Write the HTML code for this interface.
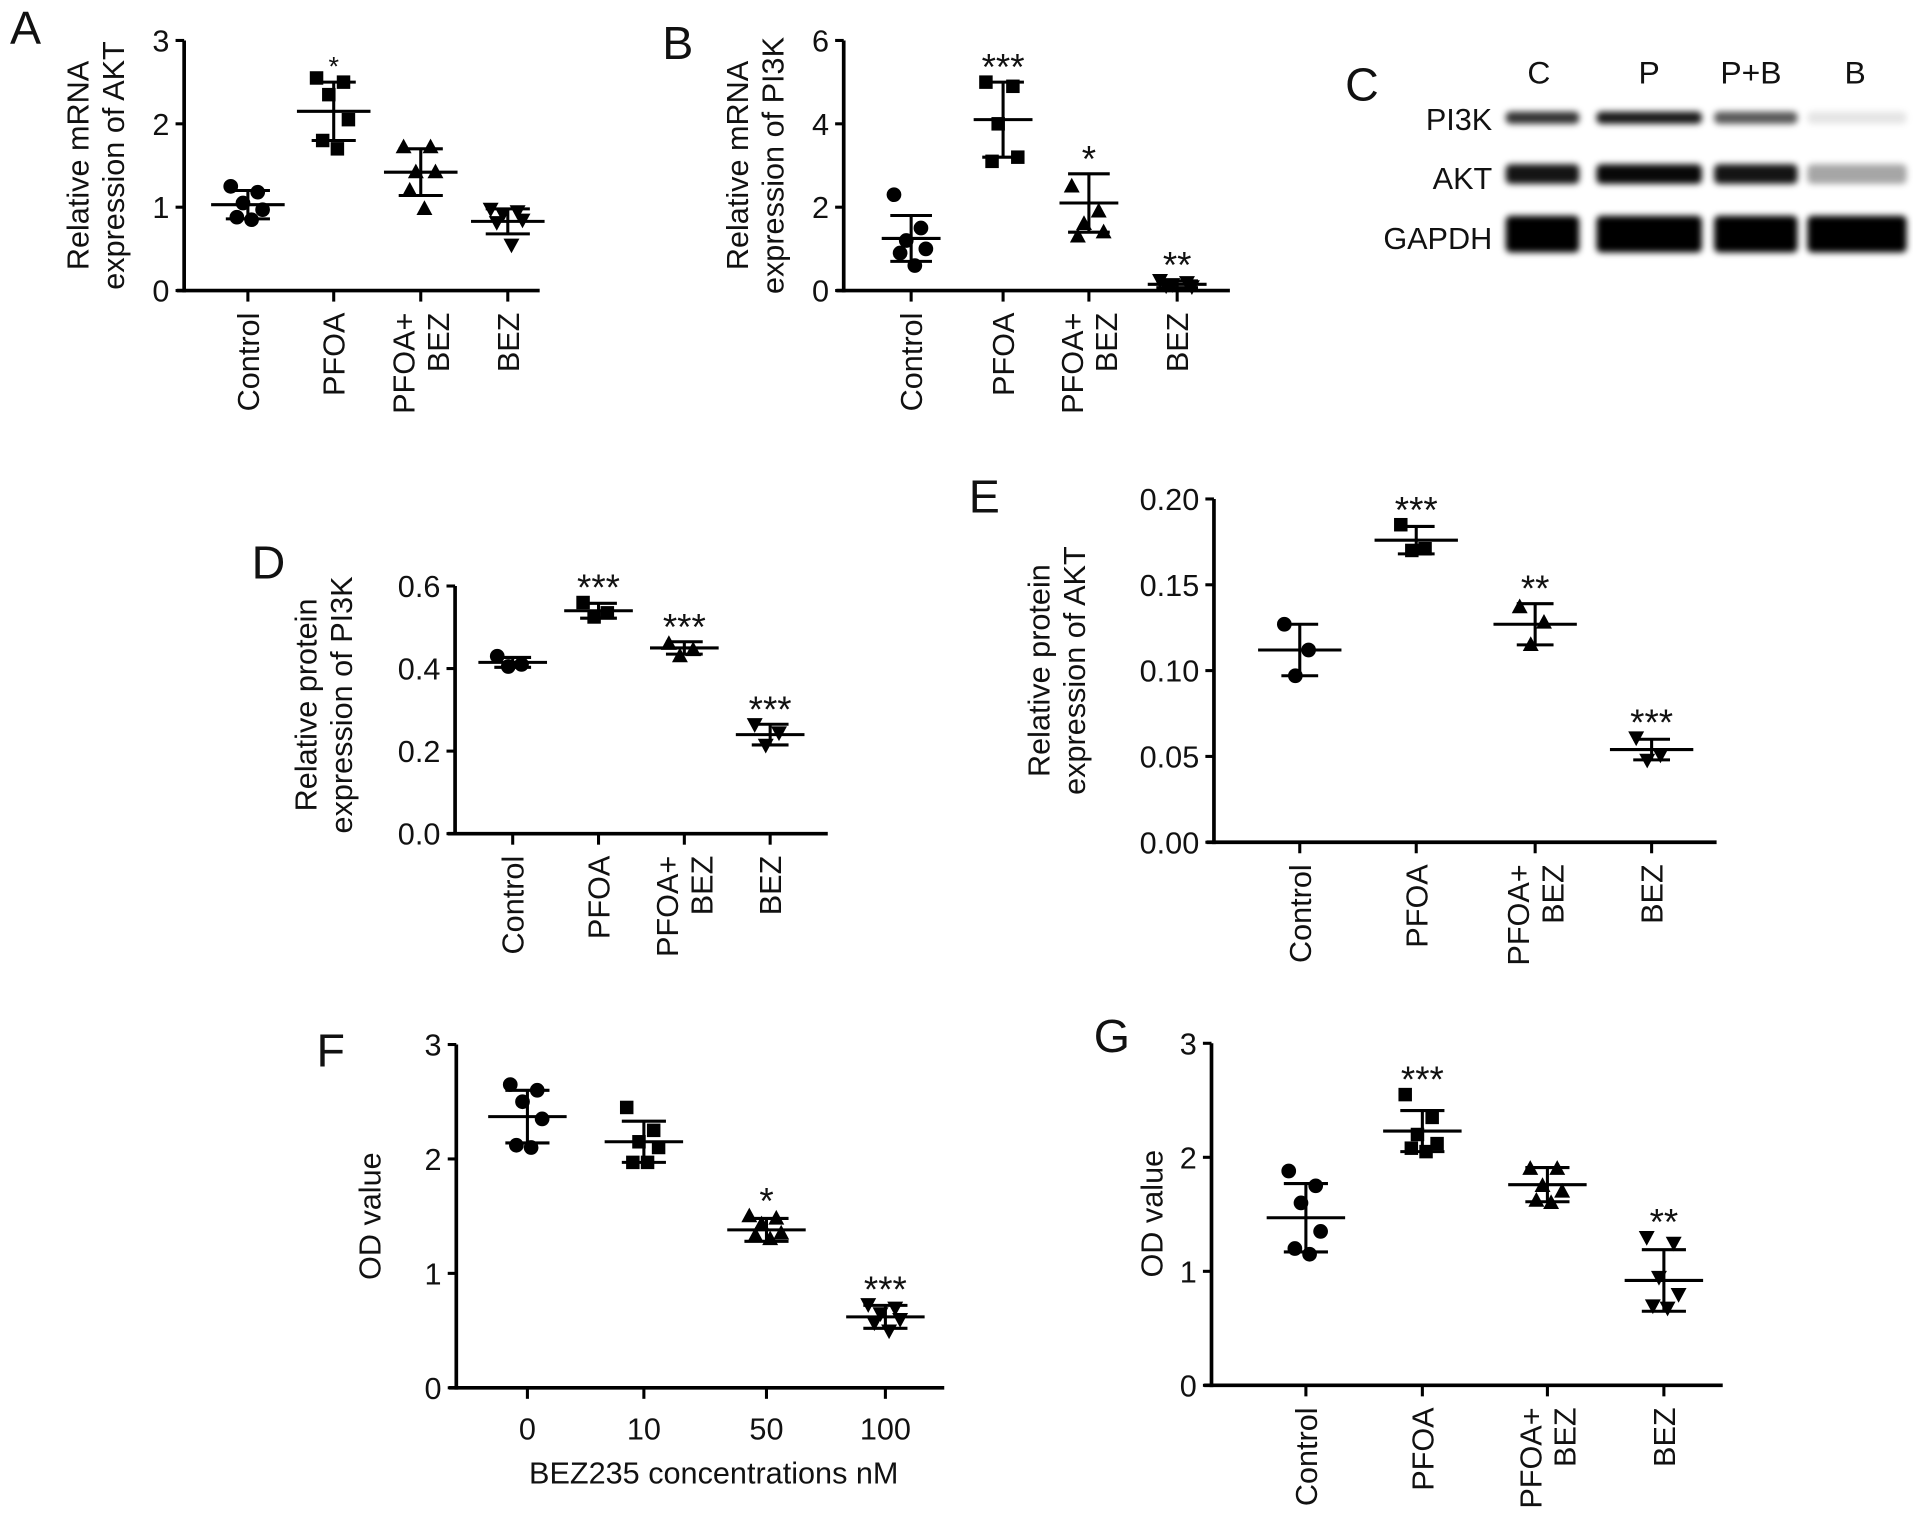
<!DOCTYPE html>
<html><head><meta charset="utf-8"><style>
html,body{margin:0;padding:0;background:#fff}
svg{display:block}
text{font-family:"Liberation Sans",Arial,sans-serif;fill:#111}
</style></head><body>
<svg id="fig" width="1913" height="1530" viewBox="0 0 1560 1248">
<defs><filter id="blur" x="-10%" y="-50%" width="120%" height="200%"><feGaussianBlur stdDeviation="2.5"/></filter></defs>
<g>
<text x="1097" y="82" font-size="38">C</text>
<text x="1255" y="68" font-size="26" text-anchor="middle">C</text>
<text x="1345" y="68" font-size="26" text-anchor="middle">P</text>
<text x="1428" y="68" font-size="26" text-anchor="middle">P+B</text>
<text x="1513" y="68" font-size="26" text-anchor="middle">B</text>
<text x="1217" y="106" font-size="25" text-anchor="end">PI3K</text>
<text x="1217" y="154" font-size="25" text-anchor="end">AKT</text>
<text x="1217" y="203" font-size="25" text-anchor="end">GAPDH</text>
<g id="bands" filter="url(#blur)"></g>
</g>
<g id="charts"></g>
</svg>
<script>
// Data arrays
const catsTreat = ["Control","PFOA","PFOA+\nBEZ","BEZ"];
const catsConc = ["0","10","50","100"];
const aPts = [[1.25,1.18,1.05,0.97,0.88,0.85],[2.55,2.5,2.35,2.05,1.8,1.7],[1.72,1.72,1.42,1.42,1.2,0.98],[0.98,0.95,0.92,0.85,0.82,0.55]];
const aMean = [1.03,2.15,1.42,0.83];
const aSd = [0.17,0.35,0.28,0.15];
const aStars = ["","*","",""];
const bPts = [[2.3,1.5,1.2,1.0,0.9,0.6],[5.0,4.9,4.0,3.2,3.1],[2.5,1.9,1.6,1.4,1.3],[0.25,0.2,0.15,0.1,0.12]];
const bMean = [1.25,4.1,2.1,0.15];
const bSd = [0.55,0.9,0.7,0.08];
const bStars = ["","***","*","**"];
const dPts = [[0.43,0.41,0.405],[0.56,0.535,0.525],[0.46,0.445,0.43],[0.265,0.245,0.215]];
const dMean = [0.415,0.54,0.45,0.24];
const dSd = [0.012,0.018,0.015,0.025];
const dStars = ["","***","***","***"];
const ePts = [[0.127,0.112,0.097],[0.185,0.171,0.170],[0.137,0.128,0.115],[0.061,0.051,0.048]];
const eMean = [0.112,0.176,0.127,0.054];
const eSd = [0.015,0.008,0.012,0.006];
const eStars = ["","***","**","***"];
const fPts = [[2.65,2.6,2.5,2.35,2.12,2.1],[2.45,2.25,2.15,2.1,1.97,1.97],[1.5,1.48,1.43,1.35,1.33,1.3],[0.73,0.7,0.65,0.6,0.57,0.5]];
const fMean = [2.37,2.15,1.38,0.62];
const fSd = [0.23,0.18,0.1,0.1];
const fStars = ["","","*","***"];
const gPts = [[1.88,1.75,1.6,1.35,1.2,1.15],[2.55,2.35,2.2,2.12,2.08,2.05],[1.9,1.9,1.75,1.7,1.62,1.6],[1.3,1.25,0.95,0.8,0.7,0.68]];
const gMean = [1.47,2.23,1.76,0.92];
const gSd = [0.3,0.18,0.15,0.27];
const gStars = ["","***","","**"];
const bandIntensity = [[0.8,0.9,0.65,0.1],[0.92,0.97,0.92,0.35],[1,1,1,1]];

const NS="http://www.w3.org/2000/svg";
function mk(tag,attrs,parent){const e=document.createElementNS(NS,tag);for(const k in attrs)e.setAttribute(k,attrs[k]);parent.appendChild(e);return e;}

const bandsG=document.getElementById('bands');
const laneX=[[1228,1288],[1302,1388],[1398,1466],[1474,1555]];
const rowY=[96,142,191];const rowH=[10,16,30];
bandIntensity.forEach((row,ri)=>row.forEach((v,li)=>{
  const b=mk('rect',{x:laneX[li][0],y:rowY[ri]-rowH[ri]/2,width:laneX[li][1]-laneX[li][0],height:rowH[ri],rx:4,fill:'#000','fill-opacity':v},bandsG);
  
  
}));

const charts=document.getElementById('charts');
const shapes=['circle','square','tri','invtri'];
function marker(g,shape,x,y){
  let e;
  if(shape==='circle')e=mk('circle',{cx:x,cy:y,r:6,fill:'#000'},g);
  else if(shape==='square')e=mk('rect',{x:x-5.5,y:y-5.5,width:11,height:11,fill:'#000'},g);
  else if(shape==='tri')e=mk('polygon',{points:`${x},${y-7} ${x-6.5},${y+5} ${x+6.5},${y+5}`,fill:'#000'},g);
  else e=mk('polygon',{points:`${x},${y+7} ${x-6.5},${y-5} ${x+6.5},${y-5}`,fill:'#000'},g);
  
  
}
const jit=[-14,8,-4,12,-9,3];

function panel(o){
  const g=mk('g',{},charts);
  
  
  const ys=v=>o.y0-(v-o.ymin)/(o.ymax-o.ymin)*(o.y0-o.ytop);
  const xs=i=>o.cx[i];
  const lt=mk('text',{x:o.lx,y:o.ly,'font-size':38},g);lt.textContent=o.id.toUpperCase();
  
  
  const ya=mk('line',{x1:o.ax,y1:o.ytop,x2:o.ax,y2:o.y0+1.5,stroke:'#000','stroke-width':3},g);
  
  
  const xa=mk('line',{x1:o.ax-6,y1:o.y0,x2:o.xend,y2:o.y0,stroke:'#000','stroke-width':3},g);
  
  
  o.ticks.forEach((t,i)=>{
    const y=ys(t);
    mk('line',{x1:o.ax-7,y1:y,x2:o.ax,y2:y,stroke:'#000','stroke-width':2.5},g);
    const tx=mk('text',{x:o.ax-12,y:y+9,'font-size':25,'text-anchor':'end'},g);
    tx.textContent=o.tickLabels[i];
    
    
  });
  const yt=mk('text',{transform:`translate(${o.ytx},${o.tyc}) rotate(-90)`,'font-size':25,'text-anchor':'middle'},g);
  
  
  o.ytitle.forEach((l,i)=>{const s=mk('tspan',{x:0,dy:i?29:0},yt);s.textContent=l;});
  o.cats.forEach((c,i)=>{
    const x=xs(i);
    mk('line',{x1:x,y1:o.y0,x2:x,y2:o.y0+9,stroke:'#000','stroke-width':2.5},g);
    if(o.horizontal){
      const t=mk('text',{x:x,y:o.y0+42,'font-size':25,'text-anchor':'middle'},g);t.textContent=c;
      
      
    } else {
      const lines=c.split('\n');
      const t=mk('text',{transform:`translate(${x+9-(lines.length-1)*14},${o.y0+18}) rotate(-90)`,'font-size':25,'text-anchor':'end'},g);
      
      
      lines.forEach((l,k)=>{const s=mk('tspan',{x:0,dy:k?28:0},t);s.textContent=l;});
    }
    const m=o.mean[i],sd=o.sd[i];
    const w=o.mw,cw=o.cw;
    const sg=mk('g',{stroke:'#000','stroke-width':2.5},g);
    
    
    mk('line',{x1:x,y1:ys(m+sd),x2:x,y2:ys(m-sd)},sg);
    mk('line',{x1:x-cw,y1:ys(m+sd),x2:x+cw,y2:ys(m+sd)},sg);
    mk('line',{x1:x-cw,y1:ys(m-sd),x2:x+cw,y2:ys(m-sd)},sg);
    const ml=mk('line',{x1:x-w,y1:ys(m),x2:x+w,y2:ys(m),stroke:'#000','stroke-width':2.5},g);
    
    
    o.pts[i].forEach((v,k)=>marker(g,shapes[i],x+jit[k]*o.js,ys(v)));
    if(o.stars[i]){
      const top=Math.max(m+sd,...o.pts[i]);
      const st=mk('text',{x:x,y:ys(top)-2,'font-size':o.starSize,'text-anchor':'middle'},g);
      st.textContent=o.stars[i];
      
      
    }
  });
  if(o.xtitle){const t=mk('text',{x:o.xtx,y:o.xty,'font-size':25,'text-anchor':'middle'},g);t.textContent=o.xtitle;
    
    }
}

panel({id:'a',lx:8,ly:36,ax:150,y0:237,ytop:33,ymin:0,ymax:3,ticks:[0,1,2,3],tickLabels:["0","1","2","3"],
  xend:440,cx:[202,272,343,414],cats:catsTreat,pts:aPts,mean:aMean,sd:aSd,stars:aStars,mw:30,cw:18,js:1,starSize:22,
  ytitle:["Relative mRNA","expression of AKT"],ytx:72,tyc:135});
panel({id:'b',lx:540,ly:48,ax:688,y0:237,ytop:33,ymin:0,ymax:6,ticks:[0,2,4,6],tickLabels:["0","2","4","6"],
  xend:1003,cx:[743,818,888,960],cats:catsTreat,pts:bPts,mean:bMean,sd:bSd,stars:bStars,mw:24,cw:17,js:1,starSize:30,
  ytitle:["Relative mRNA","expression of PI3K"],ytx:610,tyc:135});
panel({id:'d',lx:205,ly:472,ax:371,y0:680,ytop:478,ymin:0,ymax:0.6,ticks:[0,0.2,0.4,0.6],tickLabels:["0.0","0.2","0.4","0.6"],
  xend:675,cx:[418,488,558,628],cats:catsTreat,pts:dPts,mean:dMean,sd:dSd,stars:dStars,mw:28,cw:15,js:0.9,starSize:30,
  ytitle:["Relative protein","expression of PI3K"],ytx:258,tyc:575});
panel({id:'e',lx:790,ly:418,ax:990,y0:687,ytop:407,ymin:0,ymax:0.2,ticks:[0,0.05,0.1,0.15,0.2],tickLabels:["0.00","0.05","0.10","0.15","0.20"],
  xend:1400,cx:[1060,1155,1252,1347],cats:catsTreat,pts:ePts,mean:eMean,sd:eSd,stars:eStars,mw:34,cw:15,js:0.9,starSize:30,
  ytitle:["Relative protein","expression of AKT"],ytx:856,tyc:547});
panel({id:'f',lx:258,ly:870,ax:372,y0:1132,ytop:852,ymin:0,ymax:3,ticks:[0,1,2,3],tickLabels:["0","1","2","3"],
  xend:770,cx:[430,525,625,722],cats:catsConc,horizontal:true,pts:fPts,mean:fMean,sd:fSd,stars:fStars,mw:32,cw:18,js:1,starSize:30,
  ytitle:["OD value"],ytx:310,tyc:992,xtitle:"BEZ235 concentrations nM",xtx:582,xty:1210});
panel({id:'g',lx:892,ly:858,ax:988,y0:1130,ytop:851,ymin:0,ymax:3,ticks:[0,1,2,3],tickLabels:["0","1","2","3"],
  xend:1405,cx:[1065,1160,1262,1357],cats:catsTreat,pts:gPts,mean:gMean,sd:gSd,stars:gStars,mw:32,cw:18,js:1,starSize:30,
  ytitle:["OD value"],ytx:948,tyc:990});
</script>
</body></html>
